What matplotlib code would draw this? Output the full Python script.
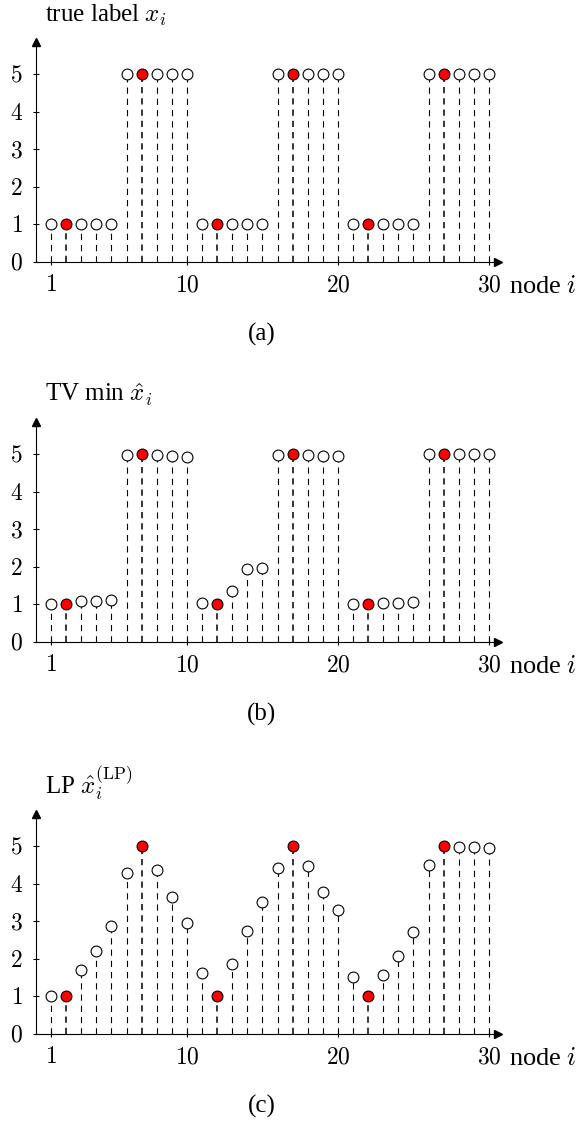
import matplotlib
matplotlib.use("Agg")
import matplotlib.pyplot as plt

plt.rcParams['mathtext.fontset'] = 'cm'
plt.rcParams['font.family'] = ['Liberation Serif', 'DejaVu Serif']
plt.rcParams['lines.scale_dashes'] = False

# data
nodes = list(range(1, 31))
labeled = [2, 7, 12, 17, 22, 27]   # red (sampled) nodes

true_label = [1, 1, 1, 1, 1, 5, 5, 5, 5, 5,
              1, 1, 1, 1, 1, 5, 5, 5, 5, 5,
              1, 1, 1, 1, 1, 5, 5, 5, 5, 5]

tv_min = [1.00, 1.00, 1.08, 1.10, 1.12, 4.97, 5.00, 4.97, 4.95, 4.93,
          1.03, 1.00, 1.35, 1.94, 1.98, 4.97, 5.00, 4.97, 4.95, 4.94,
          1.02, 1.00, 1.03, 1.04, 1.07, 4.99, 5.00, 5.00, 5.00, 5.00]

lp = [1.00, 1.00, 1.70, 2.21, 2.87, 4.28, 5.00, 4.37, 3.63, 2.96,
      1.63, 1.00, 1.86, 2.73, 3.51, 4.42, 5.00, 4.46, 3.77, 3.29,
      1.52, 1.00, 1.56, 2.08, 2.70, 4.50, 5.00, 4.96, 4.96, 4.95]

xticks = [1, 10, 20, 30]
yticks = [0, 1, 2, 3, 4, 5]

panels = [
    (true_label, 'true label $x_i$', '(a)', 262),
    (tv_min, 'TV min $\\hat{x}_i$', '(b)', 642),
    (lp, 'LP $\\hat{x}_i^{(\\mathrm{LP})}$', '(c)', 1034),
]

W, H = 584, 1125
fig = plt.figure(figsize=(W / 100, H / 100), dpi=100)

ax_left, ax_right = 36, 498     # pixels
ax_h = 220
for vals, title, sub, y0 in panels:
    ax = fig.add_axes([ax_left / W, 1 - y0 / H, (ax_right - ax_left) / W, ax_h / H])
    ax.set_xlim(0, 30.6)
    ax.set_ylim(0, 5.85)
    for s in ['top', 'right']:
        ax.spines[s].set_visible(False)
    for s in ['left', 'bottom']:
        ax.spines[s].set_linewidth(0.8)
    # arrow heads
    ax.plot(1, 0, marker='>', color='k', ms=6, transform=ax.transAxes, clip_on=False)
    ax.plot(0, 1, marker='^', color='k', ms=6, transform=ax.transAxes, clip_on=False)

    # stems
    for n, v in zip(nodes, vals):
        lw = 1.1 if n in labeled else 0.8
        ax.plot([n, n], [0, v], color='k', lw=lw, ls=(0, (4.5, 3.6)), zorder=2)
    # markers
    for n, v in zip(nodes, vals):
        fc = 'red' if n in labeled else 'white'
        ax.plot(n, v, marker='o', ms=7.8, mfc=fc, mec='k', mew=0.8, zorder=3, clip_on=False)

    ax.set_xticks(xticks, labels=['$%d$' % t for t in xticks])
    ax.set_yticks(yticks, labels=['$%d$' % t for t in yticks])
    ax.tick_params(direction='inout', length=5, width=0.8, labelsize=17)
    ax.tick_params(axis='x', pad=7)
    ax.tick_params(axis='y', pad=7)

    fig.text(509 / W, 1 - (y0 + 31) / H, 'node $i$', fontsize=19, va='baseline', ha='left')
    fig.text(45 / W, 1 - (y0 - 240) / H, title, fontsize=18, va='baseline', ha='left')
    fig.text(262 / W, 1 - (y0 + 72) / H, sub, fontsize=18, va='center', ha='center')

fig.savefig('out.png', dpi=100)
